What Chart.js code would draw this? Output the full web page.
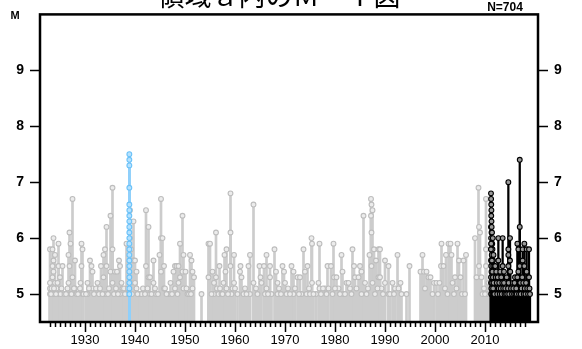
<!DOCTYPE html>
<html lang="ja">
<head>
<meta charset="UTF-8">
<title>M-T図</title>
<script src="https://cdn.jsdelivr.net/npm/chart.js"></script>
<style>
    html, body { margin: 0; padding: 0; background: #fff; }
    .wrap { position: relative; width: 582px; height: 349px; }
</style>
</head>
<body>
<div class="wrap"><canvas id="mt" width="582" height="349"></canvas></div>
<script>
// [decimal year, magnitude]
const grayEvents = [
    [1923.0,5.8],[1923.0,5.2],[1923.0,5.1],[1923.0,5.0],[1923.5,5.8],[1923.5,5.5],[1923.5,5.3],
    [1923.7,6.0],[1923.7,5.6],[1923.7,5.4],[1923.7,5.0],[1924.0,5.7],[1924.0,5.2],[1924.3,5.1],
    [1924.7,5.9],[1924.7,5.5],[1924.7,5.0],[1925.0,5.3],[1925.1,5.0],[1925.5,5.5],[1925.9,5.0],
    [1926.7,5.7],[1926.7,5.2],[1926.9,6.1],[1926.9,5.5],[1927.1,5.9],[1927.1,5.0],[1927.5,6.7],
    [1927.5,5.3],[1928.0,5.6],[1928.0,5.1],[1928.3,5.0],[1929.0,5.1],[1929.3,5.9],[1929.3,5.5],
    [1929.5,5.8],[1929.5,5.0],[1929.7,5.0],[1930.5,5.2],[1930.5,5.0],[1931.0,5.6],[1931.3,5.5],
    [1931.5,5.4],[1931.5,5.1],[1932.5,5.2],[1933.2,5.5],[1933.7,5.7],[1933.7,5.3],[1934.0,5.8],
    [1934.0,5.0],[1934.3,6.2],[1934.3,5.5],[1934.6,5.0],[1935.1,6.4],[1935.1,5.4],[1935.5,6.9],
    [1935.5,5.8],[1935.5,5.2],[1936.0,5.4],[1936.4,5.4],[1936.8,5.6],[1937.0,5.5],[1937.0,5.0],
    [1937.5,5.1],[1937.8,5.1],[1938.3,5.9],[1938.3,5.0],[1939.0,6.5],[1939.0,6.0],[1939.2,5.8],
    [1939.2,5.2],[1939.7,6.3],[1939.7,5.6],[1940.0,5.6],[1940.0,5.2],[1940.3,5.4],[1940.3,5.1],
    [1940.7,5.0],[1941.0,5.0],[1941.3,5.0],[1942.2,6.5],[1942.2,5.5],[1942.7,6.2],[1942.7,5.3],
    [1943.0,5.3],[1943.0,5.0],[1943.7,5.6],[1943.7,5.2],[1944.2,5.0],[1944.9,5.7],[1945.2,6.7],
    [1945.2,6.0],[1945.2,5.4],[1945.5,6.0],[1945.8,5.5],[1945.8,5.1],[1946.7,5.0],[1947.1,5.2],
    [1947.7,5.4],[1948.0,5.5],[1948.0,5.1],[1948.3,5.5],[1948.7,5.5],[1948.7,5.2],[1949.0,5.9],
    [1949.0,5.3],[1949.5,6.4],[1949.5,5.4],[1949.7,5.7],[1949.7,5.1],[1950.1,5.4],[1950.5,5.0],
    [1951.0,5.7],[1951.3,5.6],[1951.5,5.4],[1951.5,5.1],[1951.8,5.3],[1953.3,5.0],[1954.7,5.9],
    [1954.7,5.3],[1955.0,5.9],[1955.5,5.4],[1955.8,5.2],[1955.8,5.0],[1956.2,6.1],[1956.2,5.3],
    [1956.7,5.0],[1956.9,5.5],[1957.3,5.0],[1957.7,5.2],[1957.9,5.7],[1958.1,5.4],[1958.3,5.8],
    [1958.3,5.1],[1959.1,6.8],[1959.1,6.1],[1959.1,5.5],[1959.3,5.0],[1959.5,5.1],[1959.8,5.7],
    [1959.8,5.2],[1961.0,5.4],[1961.1,5.5],[1961.3,5.3],[1961.7,5.0],[1962.0,5.1],[1962.7,5.5],
    [1963.0,5.7],[1963.0,5.0],[1963.7,6.6],[1963.7,5.2],[1964.2,5.1],[1964.9,5.5],[1965.1,5.3],
    [1965.3,5.2],[1965.8,5.5],[1966.0,5.0],[1966.3,5.7],[1966.3,5.1],[1967.0,5.5],[1967.0,5.3],
    [1967.3,5.0],[1967.9,5.8],[1968.2,5.4],[1968.5,5.2],[1968.5,5.0],[1969.5,5.5],[1969.8,5.4],
    [1970.0,5.2],[1970.3,5.0],[1971.3,5.5],[1971.7,5.4],[1971.7,5.0],[1972.5,5.3],[1973.0,5.3],
    [1973.3,5.0],[1973.7,5.8],[1974.0,5.4],[1974.3,5.0],[1974.5,5.5],[1975.0,5.0],[1975.3,6.0],
    [1975.4,5.9],[1975.4,5.2],[1976.2,5.0],[1976.7,5.2],[1976.9,5.9],[1976.9,5.1],[1978.0,5.1],
    [1978.5,5.5],[1978.7,5.1],[1979.2,5.5],[1979.7,5.9],[1979.8,5.3],[1980.3,5.3],[1980.7,5.1],
    [1981.3,5.7],[1981.5,5.4],[1981.7,5.0],[1982.3,5.2],[1982.7,5.2],[1983.0,5.1],[1983.5,5.8],
    [1983.8,5.5],[1984.0,5.3],[1984.7,5.3],[1985.0,5.5],[1985.3,5.4],[1985.3,5.0],[1985.7,6.4],
    [1986.0,5.2],[1986.9,5.7],[1987.2,6.7],[1987.3,6.6],[1987.5,6.5],[1987.2,6.4],[1987.3,6.1],
    [1987.3,5.5],[1987.5,5.2],[1987.8,5.8],[1988.2,5.6],[1988.7,5.8],[1988.7,5.3],[1989.0,5.8],
    [1989.0,5.3],[1989.3,5.1],[1990.0,5.6],[1990.0,5.2],[1990.7,5.5],[1990.7,5.0],[1991.5,5.2],
    [1992.0,5.1],[1992.5,5.7],[1992.7,5.1],[1993.1,5.2],[1993.3,5.0],[1994.3,5.0],[1994.9,5.5],
    [1997.1,5.4],[1997.5,5.7],[1997.8,5.4],[1998.3,5.4],[1998.7,5.3],[1999.1,5.3],[1999.8,5.2],
    [2000.3,5.2],[2000.9,5.2],[2001.2,5.5],[2001.3,5.9],[2001.7,5.5],[2002.2,5.7],[2002.7,5.9],
    [2003.1,5.9],[2003.3,5.7],[2003.5,5.2],[2004.0,5.3],[2004.5,5.9],[2004.8,5.6],[2005.1,5.3],
    [2005.7,5.6],[2006.2,5.7],[2008.0,6.0],[2008.3,5.3],[2008.7,6.9],[2008.8,6.2],[2008.8,5.5],
    [2009.0,6.1],[2009.3,5.3],[2009.5,5.0],[2010.2,6.7],[2010.2,5.8],[2010.2,5.5],[2010.5,5.0],
    [2010.7,5.2],
    // small events that fill the lower band
    [1923.2,5.0],[1923.3,5.1],[1923.8,5.1],[1924.2,5.0],[1924.5,5.2],[1925.3,5.1],[1926.2,5.0],
    [1926.5,5.1],[1927.3,5.0],[1927.8,5.1],[1928.6,5.0],[1929.1,5.2],[1930.2,5.0],[1930.8,5.1],
    [1931.8,5.0],[1932.2,5.1],[1932.8,5.0],[1933.0,5.1],[1933.5,5.0],[1934.8,5.1],[1935.8,5.0],
    [1936.2,5.1],[1936.6,5.0],[1937.3,5.2],[1938.0,5.0],[1938.6,5.1],[1939.4,5.0],[1940.5,5.0],
    [1941.6,5.1],[1942.0,5.0],[1942.5,5.1],[1943.3,5.0],[1944.0,5.1],[1944.6,5.0],[1946.0,5.1],
    [1946.3,5.0],[1947.4,5.0],[1948.5,5.0],[1950.3,5.1],[1950.8,5.0],[1951.2,5.0],[1955.3,5.0],
    [1956.4,5.1],[1957.0,5.1],[1957.5,5.0],[1958.6,5.0],[1960.0,5.1],[1960.5,5.0],[1962.3,5.0],
    [1964.5,5.0],[1966.6,5.0],[1968.8,5.1],[1969.2,5.0],[1970.6,5.1],[1971.0,5.0],[1972.0,5.1],
    [1972.8,5.0],[1974.8,5.1],[1975.7,5.0],[1977.2,5.0],[1977.6,5.1],[1978.3,5.0],[1979.5,5.0],
    [1980.0,5.1],[1981.0,5.0],[1982.0,5.0],[1983.3,5.0],[1984.3,5.1],[1986.3,5.0],[1986.6,5.1],
    [1988.0,5.0],[1988.5,5.1],[1989.6,5.0],[1991.0,5.0],[1991.8,5.0],[1998.0,5.1],[1999.5,5.0],
    [2000.6,5.0],[2002.0,5.1],[2002.5,5.0],[2003.8,5.0],[2004.3,5.1],[2005.4,5.0],[2006.0,5.0],
    [2009.8,5.1],[2010.0,5.0]
];

const blueEvents = [
    [1938.87,7.5],[1938.87,7.4],[1938.87,7.3],[1938.87,6.9],[1938.87,6.6],[1938.87,6.5],
    [1938.87,6.4],[1938.87,6.3],[1938.87,6.2],[1938.87,6.1],[1938.87,6.0],[1938.87,5.9],
    [1938.87,5.8],[1938.87,5.7],[1938.87,5.6],[1938.87,5.5],[1938.87,5.4],[1938.87,5.3],
    [1938.87,5.2],[1938.87,5.1],[1938.87,5.0]
];

const blackEvents = [
    [2011.20,6.8],[2011.22,6.7],[2011.25,6.6],[2011.28,6.5],[2011.25,6.4],[2011.30,6.3],
    [2011.20,6.2],[2011.30,6.1],[2011.22,6.0],[2011.27,5.9],[2011.30,5.8],[2011.35,5.7],
    [2011.20,5.6],[2011.25,5.5],[2011.30,5.4],[2011.35,5.3],[2011.20,5.2],[2011.28,5.1],
    [2011.30,5.0],[2011.40,6.1],[2011.45,5.9],[2011.50,5.8],[2011.55,6.0],[2011.60,5.6],
    [2011.65,5.5],[2011.70,5.7],[2011.75,5.4],[2011.80,5.3],[2011.85,5.2],[2011.90,5.5],
    [2011.95,5.1],[2011.19,5.8],[2011.21,5.3],[2011.24,5.9],[2011.26,5.0],[2011.33,6.2],
    [2011.38,5.6],[2011.42,5.2],[2011.48,5.4],[2011.52,5.0],[2011.58,5.3],[2011.62,5.1],
    [2011.68,5.0],[2011.72,5.2],[2011.78,5.0],[2011.88,5.0],
    [2012.05,5.5],[2012.15,5.3],[2012.25,5.4],[2012.35,5.2],[2012.45,5.0],[2012.55,5.3],
    [2012.67,6.0],[2012.67,5.6],[2012.75,5.1],[2012.85,5.2],[2012.95,5.0],
    [2013.05,5.4],[2013.15,5.1],[2013.25,5.3],[2013.35,5.0],[2013.45,5.2],[2013.53,6.0],
    [2013.53,5.5],[2013.65,5.1],[2013.80,5.4],[2013.80,5.2],[2013.90,5.0],
    [2014.05,5.1],[2014.20,5.0],[2014.33,5.3],[2014.45,5.0],[2014.60,5.1],[2014.67,7.0],
    [2014.67,5.8],[2014.67,5.7],[2014.67,5.5],[2014.72,5.2],[2014.85,5.0],
    [2015.00,6.0],[2015.00,5.6],[2015.05,5.4],[2015.20,5.1],[2015.40,5.0],[2015.55,5.2],
    [2015.67,5.1],[2015.80,5.0],[2015.90,5.2],
    [2016.00,5.3],[2016.10,5.0],[2016.25,5.1],[2016.35,5.0],[2016.47,5.9],[2016.47,5.3],
    [2016.67,5.8],[2016.67,5.4],[2016.80,5.0],[2016.95,7.4],[2016.95,6.2],[2016.95,5.5],
    [2017.05,5.2],[2017.15,5.0],[2017.30,5.1],[2017.45,5.3],[2017.53,5.8],[2017.53,5.6],
    [2017.65,5.2],[2017.75,5.0],[2017.87,5.9],[2017.87,5.5],[2017.95,5.1],
    [2018.10,5.0],[2018.20,5.2],[2018.33,5.8],[2018.33,5.4],[2018.45,5.1],[2018.60,5.0],
    [2018.80,5.8],[2018.80,5.3],[2018.90,5.1],[2019.00,5.0]
];

const yearTicks = [1930, 1940, 1950, 1960, 1970, 1980, 1990, 2000, 2010];
const magTicks = [5, 6, 7, 8, 9];
const title = '領域ａ内のＭ－Ｔ図';
const countLabel = 'N=704';

const M_BASE = 4.5;

function stems(events) {
    return events.map(([t, m]) => ({ x: t, y: [M_BASE, m] }));
}
function heads(events) {
    return events.map(([t, m]) => ({ x: t, y: m }));
}

const frame = {
    id: 'frame',
    afterDraw(chart) {
        const { ctx, chartArea: a, scales: { x } } = chart;
        ctx.save();
        // yearly minor ticks
        ctx.strokeStyle = '#000';
        ctx.lineWidth = 1.5;
        for (let yr = 1923; yr <= 2018; yr++) {
            if (yr % 10 === 0) continue;
            const px = Math.round(x.getPixelForValue(yr)) + 0.5;
            ctx.beginPath();
            ctx.moveTo(px, a.bottom);
            ctx.lineTo(px, a.bottom + 5);
            ctx.stroke();
        }
        ctx.lineWidth = 2.5;
        ctx.strokeRect(a.left, a.top, a.right - a.left, a.bottom - a.top);

        ctx.fillStyle = '#000';
        ctx.textAlign = 'center';
        ctx.textBaseline = 'middle';
        ctx.font = 'bold 11px "Liberation Sans", Arial, sans-serif';
        ctx.fillText('M', 15, 16);
        ctx.font = 'bold 12px "Liberation Sans", Arial, sans-serif';
        ctx.fillText(countLabel, 505, 8);
        ctx.font = '27px "Noto Sans CJK JP", sans-serif';
        ctx.textBaseline = 'alphabetic';
        ctx.fillText(title, 279, 6);
        ctx.restore();
    }
};

const yAxis = (pos, width, pad) => ({
    type: 'linear',
    position: pos,
    min: M_BASE,
    max: 10,
    afterBuildTicks: s => { s.ticks = magTicks.map(v => ({ value: v })); },
    afterFit: s => { s.width = width; },
    grid: { drawOnChartArea: false, drawTicks: true, tickLength: 10, tickColor: '#000', tickWidth: 1.5 },
    border: { display: false },
    ticks: {
        color: '#000',
        padding: pad,
        font: { family: '"Liberation Sans", Arial, sans-serif', size: 14, weight: 'bold' }
    }
});

new Chart(document.getElementById('mt'), {
    type: 'bar',
    data: {
        datasets: [
            { type: 'bar', data: stems(grayEvents), backgroundColor: '#cccccc', barThickness: 2, grouped: false, order: 6 },
            { type: 'scatter', data: heads(grayEvents), pointRadius: 2.4, pointBorderWidth: 1.1,
              pointBorderColor: '#bdbdbd', pointBackgroundColor: '#ececec', order: 5 },
            { type: 'bar', data: stems(blueEvents), backgroundColor: '#8fd0fb', barThickness: 2, grouped: false, order: 4 },
            { type: 'scatter', data: heads(blueEvents), pointRadius: 2.4, pointBorderWidth: 1.1,
              pointBorderColor: '#6cc2f8', pointBackgroundColor: '#b5e2ff', order: 3 },
            { type: 'bar', data: stems(blackEvents), backgroundColor: '#000000', barThickness: 1.6, grouped: false, order: 2 },
            { type: 'scatter', data: heads(blackEvents), pointRadius: 2.4, pointBorderWidth: 1.1,
              pointBorderColor: '#000000', pointBackgroundColor: '#9a9a9a', order: 1 }
        ]
    },
    options: {
        responsive: false,
        animation: false,
        layout: { padding: { top: 14, left: 0, right: 0, bottom: 0 } },
        plugins: { legend: { display: false }, tooltip: { enabled: false } },
        scales: {
            x: {
                type: 'linear',
                position: 'bottom',
                min: 1921,
                max: 2020.6,
                offset: false,
                afterBuildTicks: s => { s.ticks = yearTicks.map(v => ({ value: v })); },
                afterFit: s => { s.height = 27; },
                grid: { drawOnChartArea: false, offset: false, drawTicks: true, tickLength: 10, tickColor: '#000', tickWidth: 1.5 },
                border: { display: false },
                ticks: {
                    color: '#000',
                    padding: 1,
                    maxRotation: 0,
                    autoSkip: false,
                    callback: v => String(v),
                    font: { family: '"Liberation Sans", Arial, sans-serif', size: 13 }
                }
            },
            y: yAxis('left', 40, 6),
            y2: yAxis('right', 44, 6)
        }
    },
    plugins: [frame]
});
</script>
</body>
</html>
